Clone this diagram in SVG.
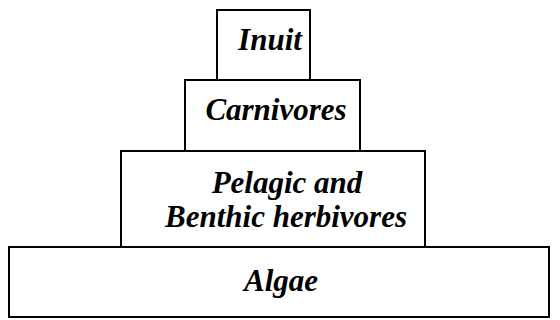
<svg xmlns="http://www.w3.org/2000/svg" width="560" height="320" viewBox="0 0 560 320">
<style>
.box{fill:#fff;stroke:#000;stroke-width:2}
.t{font-family:"Liberation Serif","Times New Roman",serif;font-weight:bold;font-style:italic;font-size:31px;text-anchor:middle;fill:#000}
</style>
<rect width="560" height="320" fill="#fff"/>
<g id="algae"><rect class="box" x="9" y="247" width="540" height="70"/><text class="t" x="281" y="291">Algae</text></g>
<g id="herbivores"><rect class="box" x="121" y="151" width="304" height="96"/><text class="t" x="287" y="193">Pelagic and</text><text class="t" x="286" y="227">Benthic herbivores</text></g>
<g id="carnivores"><rect class="box" x="185" y="80" width="175" height="71"/><text class="t" x="276" y="120">Carnivores</text></g>
<g id="inuit"><rect class="box" x="217" y="10" width="93" height="70"/><text class="t" x="270" y="50">Inuit</text></g>
<g id="connectors"/>
</svg>
